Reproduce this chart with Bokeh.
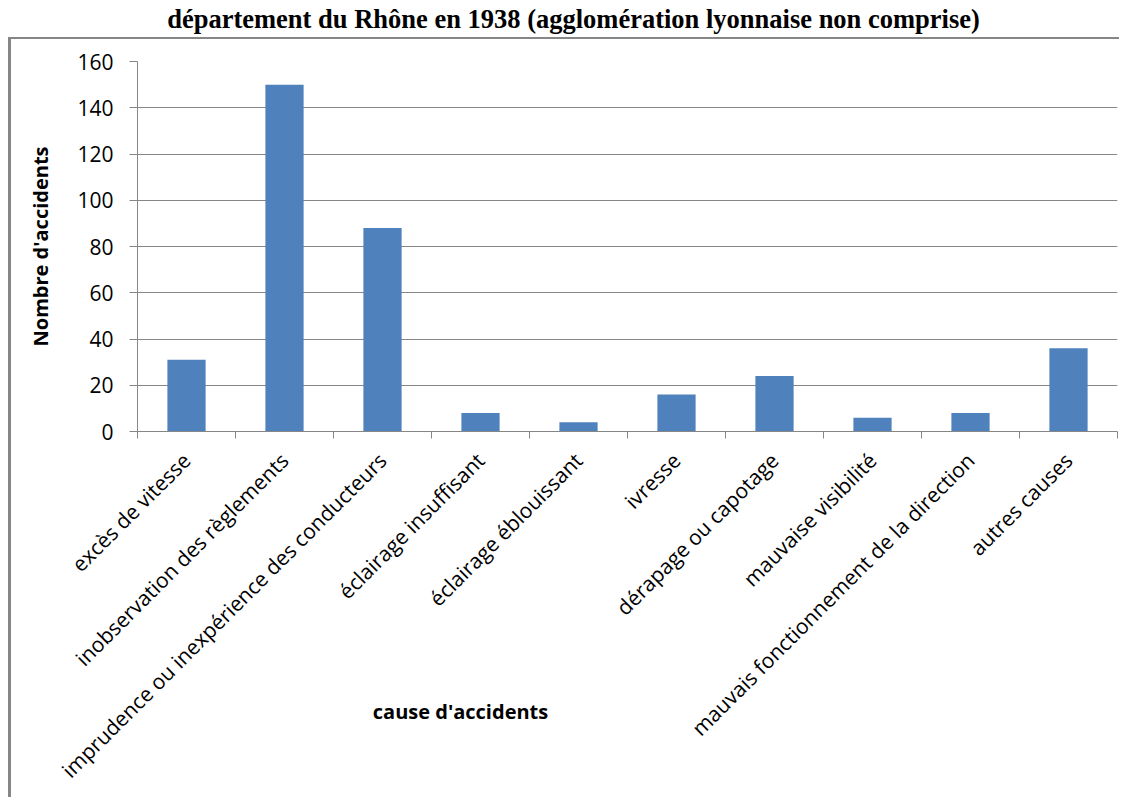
import math
from bokeh.plotting import figure
from bokeh.models import Range1d, FixedTicker, Label
from bokeh.embed import file_html
from bokeh.resources import INLINE

causes = [
    "excès de vitesse",
    "inobservation des règlements",
    "imprudence ou inexpérience des conducteurs",
    "éclairage insuffisant",
    "éclairage éblouissant",
    "ivresse",
    "dérapage ou capotage",
    "mauvaise visibilité",
    "mauvais fonctionnement de la direction",
    "autres causes",
]
accidents = [31, 150, 88, 8, 4, 16, 24, 6, 8, 36]
y_ticks = [0, 20, 40, 60, 80, 100, 120, 140, 160]

title_text = "département du Rhône en 1938 (agglomération lyonnaise non comprise)"
y_title = "Nombre d'accidents"
x_title = "cause d'accidents"

GREY = "#868686"
BLUE = "#4F81BD"
FONT = "Open Sans"

n = len(causes)
centers = [i + 0.5 for i in range(n)]
bounds = list(range(n + 1))

W, H = 1119, 797
p = figure(
    width=W, height=H,
    x_range=Range1d(0, n), y_range=Range1d(0, 160),
    output_backend="svg", toolbar_location=None,
    min_border_left=137, min_border_right=2,
    min_border_top=61, min_border_bottom=366,
)
p.outline_line_color = None
p.background_fill_color = "white"
p.border_fill_color = None

# chart-area border: left and top edges (right/bottom run off the picture)
p.styles = {
    "background-color": "white",
    "background-image": f"linear-gradient({GREY}, {GREY}), linear-gradient({GREY}, {GREY})",
    "background-size": "3px 100%, 100% 2px",
    "background-position": "8px 37px, 8px 37px",
    "background-repeat": "no-repeat",
}

p.vbar(x=centers, top=accidents, width=0.39, color=BLUE, line_color=None)

# grid
p.xgrid.visible = False
p.ygrid.ticker = FixedTicker(ticks=y_ticks)
p.ygrid.grid_line_color = GREY
p.ygrid.grid_line_width = 1

# x axis
xa = p.xaxis[0]
xa.ticker = FixedTicker(ticks=centers, minor_ticks=bounds)
xa.major_label_overrides = {c: lab for c, lab in zip(centers, causes)}
xa.major_label_orientation = math.pi / 4
xa.major_tick_out = 0
xa.major_tick_in = 0
xa.minor_tick_out = 7
xa.minor_tick_in = 0
xa.minor_tick_line_color = GREY
xa.axis_line_color = GREY
xa.major_label_text_font = FONT
xa.major_label_text_font_size = "21px"
xa.major_label_text_color = "black"
xa.major_label_standoff = 18

# y axis
ya = p.yaxis[0]
ya.ticker = FixedTicker(ticks=y_ticks)
ya.major_tick_out = 8
ya.major_tick_in = 0
ya.minor_tick_line_color = None
ya.major_tick_line_color = GREY
ya.axis_line_color = GREY
ya.major_label_text_font = FONT
ya.major_label_text_font_size = "21px"
ya.major_label_text_color = "black"
ya.major_label_standoff = 16
ya.axis_label = y_title
ya.axis_label_text_font = FONT
ya.axis_label_text_font_style = "bold"
ya.axis_label_text_font_size = "20px"
ya.axis_label_text_color = "black"
ya.axis_label_standoff = 20

# chart title
p.add_layout(Label(x=573, y=18, x_units="canvas", y_units="canvas",
                   text=title_text, text_align="center",
                   text_baseline="alphabetic", text_font="Liberation Serif",
                   text_font_style="bold", text_font_size="26.5px",
                   text_color="black"), "above")

# x axis title placed where the reference shows it
p.add_layout(Label(x=460, y=711, x_units="canvas", y_units="canvas",
                   text=x_title, text_align="center",
                   text_baseline="middle", text_font=FONT,
                   text_font_style="bold", text_font_size="20px",
                   text_color="black"), "above")

open("out.html", "w").write(file_html(p, INLINE))
